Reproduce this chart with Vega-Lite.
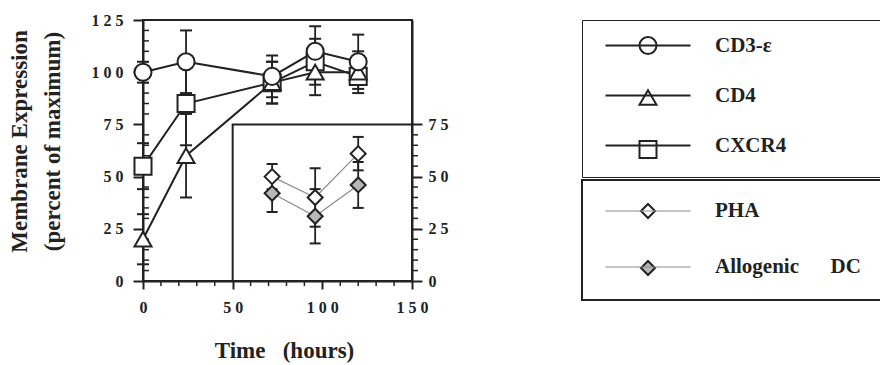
{
  "$schema": "https://vega.github.io/schema/vega-lite/v6.json",
  "width": 269,
  "height": 261,
  "autosize": {"type": "none"},
  "padding": {"left": 143, "top": 20, "right": 468, "bottom": 84},
  "config": {
    "font": "Liberation Serif",
    "view": {"stroke": "#222", "strokeWidth": 2},
    "axis": {
      "grid": false,
      "labelFlush": false,
      "domainColor": "#222",
      "domainWidth": 2,
      "tickColor": "#222",
      "tickWidth": 2,
      "labelFont": "Liberation Serif",
      "labelFontWeight": "bold",
      "labelFontSize": 16,
      "labelColor": "#222",
      "titleFont": "Liberation Serif",
      "titleFontWeight": "bold",
      "titleFontSize": 23,
      "titleColor": "#222"
    },
    "legend": {
      "labelFont": "Liberation Serif",
      "labelFontWeight": "bold",
      "labelFontSize": 21,
      "labelColor": "#222",
      "labelLimit": 600
    }
  },
  "datasets": {
    "main": [
      {"series": "CXCR4", "t": 0, "val": 55, "lo": 44, "hi": 66},
      {"series": "CXCR4", "t": 24, "val": 85, "lo": 65, "hi": 105},
      {"series": "CXCR4", "t": 72, "val": 95, "lo": 85, "hi": 105},
      {"series": "CXCR4", "t": 96, "val": 105, "lo": 94, "hi": 116},
      {"series": "CXCR4", "t": 120, "val": 98, "lo": 94, "hi": 102},
      {"series": "CD4", "t": 0, "val": 20, "lo": 8, "hi": 32},
      {"series": "CD4", "t": 24, "val": 60, "lo": 40, "hi": 80},
      {"series": "CD4", "t": 72, "val": 95, "lo": 85, "hi": 105},
      {"series": "CD4", "t": 96, "val": 100, "lo": 89, "hi": 111},
      {"series": "CD4", "t": 120, "val": 100, "lo": 90, "hi": 110},
      {"series": "CD3-ε", "t": 0, "val": 100, "lo": 95, "hi": 105},
      {"series": "CD3-ε", "t": 24, "val": 105, "lo": 90, "hi": 120},
      {"series": "CD3-ε", "t": 72, "val": 98, "lo": 88, "hi": 108},
      {"series": "CD3-ε", "t": 96, "val": 110, "lo": 98, "hi": 122},
      {"series": "CD3-ε", "t": 120, "val": 105, "lo": 92, "hi": 118}
    ],
    "inset": [
      {"series": "PHA", "t": 72, "val": 50, "lo": 44, "hi": 56},
      {"series": "PHA", "t": 96, "val": 40, "lo": 26, "hi": 54},
      {"series": "PHA", "t": 120, "val": 61, "lo": 53, "hi": 69},
      {"series": "Allogenic DC", "t": 72, "val": 42, "lo": 33, "hi": 51},
      {"series": "Allogenic DC", "t": 96, "val": 31, "lo": 18, "hi": 44},
      {"series": "Allogenic DC", "t": 120, "val": 46, "lo": 35, "hi": 57}
    ],
    "xMinor": [{"v": 10}, {"v": 20}, {"v": 30}, {"v": 40}, {"v": 60}, {"v": 70}, {"v": 80}, {"v": 90}, {"v": 110}, {"v": 120}, {"v": 130}, {"v": 140}],
    "yMinor": [{"v": 5}, {"v": 10}, {"v": 15}, {"v": 20}, {"v": 30}, {"v": 35}, {"v": 40}, {"v": 45}, {"v": 55}, {"v": 60}, {"v": 65}, {"v": 70}, {"v": 80}, {"v": 85}, {"v": 90}, {"v": 95}, {"v": 105}, {"v": 110}, {"v": 115}, {"v": 120}],
    "rMinor": [{"v": 5}, {"v": 10}, {"v": 15}, {"v": 20}, {"v": 30}, {"v": 35}, {"v": 40}, {"v": 45}, {"v": 55}, {"v": 60}, {"v": 65}, {"v": 70}],
    "frame": [{"box": "inset"}]
  },
  "layer": [
    {
      "layer": [
        {
          "data": {"name": "xMinor"},
          "mark": {"type": "tick", "orient": "vertical", "size": 5, "thickness": 1.5, "color": "#222", "opacity": 1, "yOffset": 2.5},
          "encoding": {
            "x": {"field": "v", "type": "quantitative", "scale": {"domain": [0, 150], "nice": false}},
            "y": {"datum": 0, "type": "quantitative", "scale": {"domain": [0, 125], "nice": false}}
          }
        },
        {
          "data": {"name": "yMinor"},
          "mark": {"type": "tick", "orient": "horizontal", "size": 6, "thickness": 1.5, "color": "#222", "opacity": 1, "xOffset": 3},
          "encoding": {
            "x": {"datum": 0, "type": "quantitative", "scale": {"domain": [0, 150], "nice": false}},
            "y": {"field": "v", "type": "quantitative", "scale": {"domain": [0, 125], "nice": false}}
          }
        },
        {
          "data": {"name": "main"},
          "mark": {"type": "line", "strokeWidth": 2},
          "encoding": {
            "x": {"field": "t", "type": "quantitative", "scale": {"domain": [0, 150], "nice": false}},
            "y": {"field": "val", "type": "quantitative", "scale": {"domain": [0, 125], "nice": false}},
            "color": {
              "field": "series", "type": "nominal",
              "scale": {"domain": ["CD3-ε", "CD4", "CXCR4"], "range": ["#222", "#222", "#222"]},
              "legend": {
                "orient": "none", "legendX": 439, "legendY": 0, "title": null,
                "padding": 15,
                "symbolType": "M-5,0H5", "symbolSize": 289, "symbolStrokeWidth": 2,
                "symbolOffset": 40.5, "labelOffset": 56.5, "rowPadding": 28
              }
            }
          }
        },
        {
          "data": {"name": "main"},
          "mark": {"type": "rule", "color": "#222", "strokeWidth": 1.8},
          "encoding": {
            "x": {"field": "t", "type": "quantitative", "scale": {"domain": [0, 150], "nice": false}},
            "y": {"field": "lo", "type": "quantitative", "scale": {"domain": [0, 125], "nice": false}},
            "y2": {"field": "hi"}
          }
        },
        {
          "data": {"name": "main"},
          "mark": {"type": "tick", "orient": "horizontal", "size": 12, "thickness": 2, "color": "#222", "opacity": 1},
          "encoding": {
            "x": {"field": "t", "type": "quantitative", "scale": {"domain": [0, 150], "nice": false}},
            "y": {"field": "lo", "type": "quantitative", "scale": {"domain": [0, 125], "nice": false}}
          }
        },
        {
          "data": {"name": "main"},
          "mark": {"type": "tick", "orient": "horizontal", "size": 12, "thickness": 2, "color": "#222", "opacity": 1},
          "encoding": {
            "x": {"field": "t", "type": "quantitative", "scale": {"domain": [0, 150], "nice": false}},
            "y": {"field": "hi", "type": "quantitative", "scale": {"domain": [0, 125], "nice": false}}
          }
        },
        {
          "data": {"name": "main"},
          "mark": {"type": "point", "filled": true, "fill": "white", "stroke": "#222", "strokeWidth": 2, "size": 290, "opacity": 1},
          "encoding": {
            "x": {
              "field": "t", "type": "quantitative", "scale": {"domain": [0, 150], "nice": false},
              "axis": {"values": [0, 50, 100, 150], "title": "Time\u00a0\u00a0\u00a0(hours)", "titleX": 141, "tickSize": 8, "labelPadding": 10, "titlePadding": 24, "labelExpr": "join(split(datum.label, ''), ' ')"}
            },
            "y": {
              "field": "val", "type": "quantitative", "scale": {"domain": [0, 125], "nice": false},
              "axis": {"values": [0, 25, 50, 75, 100, 125], "title": ["Membrane Expression", "(percent of maximum)"], "titleLineHeight": 33, "titleY": 121, "tickSize": 10, "labelPadding": 10, "titlePadding": 27, "labelExpr": "join(split(datum.label, ''), ' ')"}
            },
            "shape": {
              "field": "series", "type": "nominal", "sort": ["CD3-ε", "CD4", "CXCR4"],
              "scale": {"range": ["circle", "triangle-up", "square"]},
              "legend": {
                "orient": "none", "legendX": 439, "legendY": 0, "title": null,
                "padding": 15, "strokeColor": "#222",
                "symbolSize": 289, "symbolStrokeWidth": 2,
                "symbolOffset": 40.5, "labelOffset": 209.5, "rowPadding": 28,
                "labelOpacity": 0,
                "labelExpr": "'.'",
                "encode": {
                  "legend": {"update": {"strokeWidth": {"value": 2}}},
                  "symbols": {
                    "update": {
                      "fill": {"value": "white"},
                      "stroke": {"value": "#222"},
                      "strokeWidth": {"value": 2},
                      "opacity": {"value": 1},
                      "fillOpacity": {"value": 1},
                      "strokeOpacity": {"value": 1},
                      "size": {"value": 289}
                    }
                  }
                }
              }
            }
          }
        }
      ]
    },
    {
      "layer": [
        {
          "data": {"name": "frame"},
          "mark": {"type": "rect", "fill": "white", "stroke": "#222", "strokeWidth": 2},
          "encoding": {
            "x": {"datum": 50, "type": "quantitative", "scale": {"domain": [0, 150], "nice": false}},
            "x2": {"datum": 150},
            "y": {"datum": 0, "type": "quantitative", "scale": {"domain": [0, 125], "nice": false}},
            "y2": {"datum": 75}
          }
        },
        {
          "data": {"name": "rMinor"},
          "mark": {"type": "tick", "orient": "horizontal", "size": 6, "thickness": 1.5, "color": "#222", "opacity": 1, "xOffset": 3},
          "encoding": {
            "x": {"datum": 150, "type": "quantitative", "scale": {"domain": [0, 150], "nice": false}},
            "y": {"field": "v", "type": "quantitative", "scale": {"domain": [0, 125], "nice": false}}
          }
        },
        {
          "data": {"name": "inset"},
          "mark": {"type": "line", "strokeWidth": 1.2},
          "encoding": {
            "x": {"field": "t", "type": "quantitative", "scale": {"domain": [0, 150], "nice": false}},
            "y": {"field": "val", "type": "quantitative", "scale": {"domain": [0, 125], "nice": false}},
            "color": {
              "field": "series", "type": "nominal",
              "scale": {"domain": ["PHA", "Allogenic DC"], "range": ["#8c8c8c", "#8c8c8c"]},
              "legend": {
                "orient": "none", "legendX": 439, "legendY": 160, "title": null,
                "padding": 20.5,
                "symbolType": "M-6.07,0H6.07", "symbolSize": 196, "symbolStrokeWidth": 1.2,
                "symbolOffset": 35, "labelOffset": 56.5, "rowPadding": 34,
                "labelExpr": "replace(datum.label, ' ', '\u00a0\u00a0\u00a0\u00a0\u00a0\u00a0')"
              }
            }
          }
        },
        {
          "data": {"name": "inset"},
          "mark": {"type": "rule", "color": "#222", "strokeWidth": 1.8},
          "encoding": {
            "x": {"field": "t", "type": "quantitative", "scale": {"domain": [0, 150], "nice": false}},
            "y": {"field": "lo", "type": "quantitative", "scale": {"domain": [0, 125], "nice": false}},
            "y2": {"field": "hi"}
          }
        },
        {
          "data": {"name": "inset"},
          "mark": {"type": "tick", "orient": "horizontal", "size": 11, "thickness": 2, "color": "#222", "opacity": 1},
          "encoding": {
            "x": {"field": "t", "type": "quantitative", "scale": {"domain": [0, 150], "nice": false}},
            "y": {"field": "lo", "type": "quantitative", "scale": {"domain": [0, 125], "nice": false}}
          }
        },
        {
          "data": {"name": "inset"},
          "mark": {"type": "tick", "orient": "horizontal", "size": 11, "thickness": 2, "color": "#222", "opacity": 1},
          "encoding": {
            "x": {"field": "t", "type": "quantitative", "scale": {"domain": [0, 150], "nice": false}},
            "y": {"field": "hi", "type": "quantitative", "scale": {"domain": [0, 125], "nice": false}}
          }
        },
        {
          "data": {"name": "inset"},
          "mark": {"type": "point", "shape": "diamond", "filled": true, "stroke": "#222", "strokeWidth": 2, "size": 225, "opacity": 1},
          "encoding": {
            "x": {"field": "t", "type": "quantitative", "scale": {"domain": [0, 150], "nice": false}},
            "y": {
              "field": "val", "type": "quantitative", "scale": {"domain": [0, 125], "nice": false},
              "axis": {"orient": "right", "values": [0, 25, 50, 75], "title": null, "tickSize": 10, "labelPadding": 6, "labelExpr": "join(split(datum.label, ''), ' ')"}
            },
            "fill": {
              "field": "series", "type": "nominal", "sort": ["PHA", "Allogenic DC"],
              "scale": {"range": ["white", "#b8b8b8"]},
              "legend": {
                "orient": "none", "legendX": 439, "legendY": 160, "title": null,
                "padding": 20.5, "strokeColor": "#222",
                "symbolType": "diamond", "symbolSize": 196, "symbolStrokeWidth": 2, "symbolStrokeColor": "#222", "symbolOpacity": 1,
                "symbolOffset": 35, "labelOffset": 209.5, "rowPadding": 34,
                "labelOpacity": 0,
                "labelExpr": "'.'",
                "encode": {"legend": {"update": {"strokeWidth": {"value": 2}}}}
              }
            }
          }
        }
      ]
    }
  ],
  "resolve": {"scale": {"y": "independent", "color": "independent"}}
}
